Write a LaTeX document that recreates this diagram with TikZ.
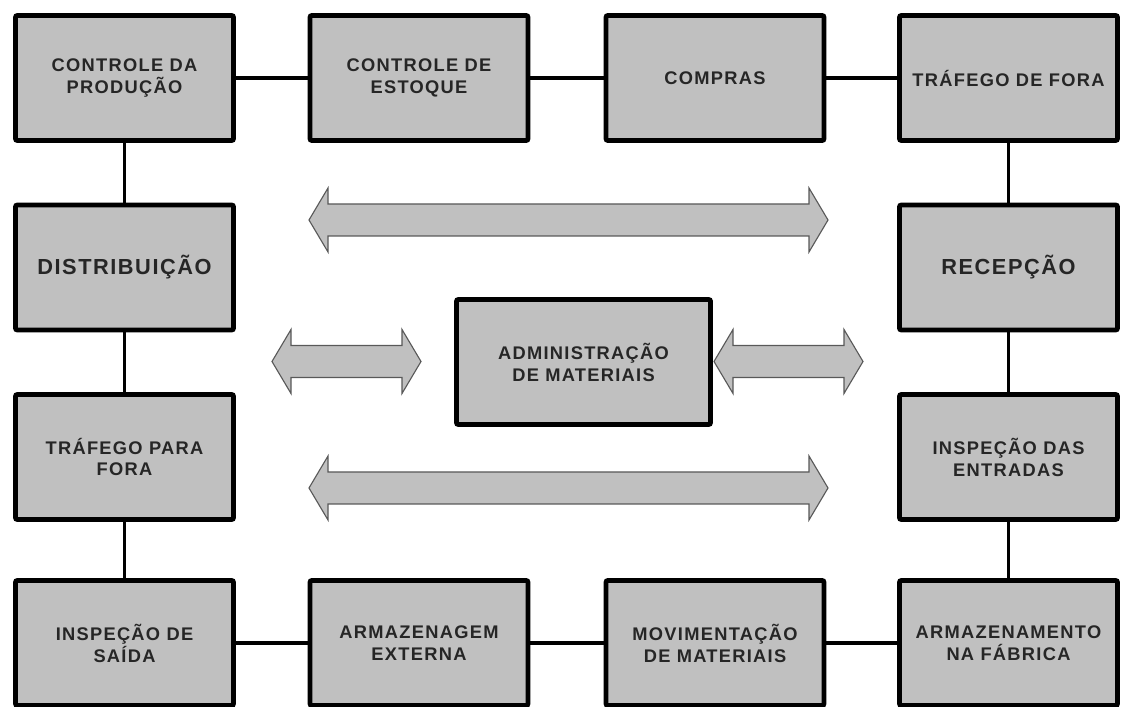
\documentclass[tikz,border=0pt]{standalone}
\usepackage{fontspec}
\newfontfamily\boxfont[LetterSpace=7]{Liberation Sans}
\definecolor{boxgray}{HTML}{C0C0C0}

% double arrow: left tip x, right tip x, middle y (pixel units)
\newcommand{\dblarrow}[3]{%
  \draw[dbl] (#1,#3) -- ++(19,-32) -- ++(0,16) -- ++(#2-#1-38,0) -- ++(0,-16)
    -- ++(19,32) -- ++(-19,32) -- ++(0,-16) -- ++(-#2+#1+38,0) -- ++(0,16) -- cycle;}

\begin{document}
\begin{tikzpicture}[x=0.025cm, y=-0.025cm,
    block/.style={draw, line width=3.5pt, fill=boxgray, rounded corners=1.5pt,
        minimum width=5.45cm, minimum height=3.125cm, inner sep=2pt, align=center,
        text=black!85, font=\boxfont\bfseries\fontsize{13}{15.6}\selectfont},
    bigtext/.style={font=\boxfont\bfseries\fontsize{15.5}{18}\selectfont},
    link/.style={line width=2.4pt},
    dbl/.style={fill=boxgray, draw=black!65, line width=0.8pt, line join=miter}]
    \useasboundingbox (0,0) rectangle (1121,707);

    % Top row
    \node[block] (ctrlprod) at (124.5,78) {CONTROLE DA\\PRODUÇÃO};
    \node[block] (ctrlest) at (419,78) {CONTROLE DE\\ESTOQUE};
    \node[block] (compras) at (715,78) {COMPRAS};
    \node[block] (trafora) at (1008.5,78) {TRÁFEGO DE FORA};

    % Sides
    \node[block, bigtext] (distrib) at (124.5,267.5) {DISTRIBUIÇÃO};
    \node[block] (trafpara) at (124.5,457) {TRÁFEGO PARA\\FORA};
    \node[block, bigtext] (recep) at (1008.5,267.5) {RECEPÇÃO};
    \node[block] (inspent) at (1008.5,457) {INSPEÇÃO DAS\\ENTRADAS};

    % Bottom row
    \node[block] (inspsai) at (124.5,643) {INSPEÇÃO DE\\SAÍDA};
    \node[block] (armext) at (419,643) {ARMAZENAGEM\\EXTERNA};
    \node[block] (movmat) at (715,643) {MOVIMENTAÇÃO\\DE MATERIAIS};
    \node[block] (armfab) at (1008.5,643) {ARMAZENAMENTO\\NA FÁBRICA};

    % Centre
    \node[block, minimum width=6.35cm] (admmat) at (583.5,362) {ADMINISTRAÇÃO\\DE MATERIAIS};

    % Links
    \draw[link] (ctrlprod) -- (ctrlest) -- (compras) -- (trafora);
    \draw[link] (ctrlprod) -- (distrib) -- (trafpara) -- (inspsai);
    \draw[link] (trafora) -- (recep) -- (inspent) -- (armfab);
    \draw[link] (inspsai) -- (armext) -- (movmat) -- (armfab);

    % Arrows
    \dblarrow{309}{828}{220}
    \dblarrow{272}{421}{361.5}
    \dblarrow{714}{863}{361.5}
    \dblarrow{309}{828}{488}
\end{tikzpicture}
\end{document}
